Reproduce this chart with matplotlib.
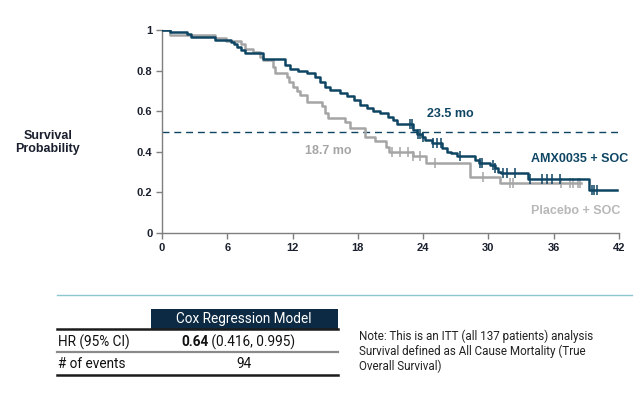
import numpy as np
import matplotlib
matplotlib.use("Agg")
import matplotlib.pyplot as plt
from matplotlib.lines import Line2D
from matplotlib.patches import Rectangle

# ---------------- data ----------------
amx_times = [0, 0.7, 2.3, 2.7, 4.9, 6.3, 6.6, 6.9, 7.3, 7.6, 9.3, 11.3, 11.8, 12.5,
             13.3, 14.1, 14.5, 15.0, 15.4, 16.4, 17.0, 17.6, 18.2, 18.8, 19.4, 20.0,
             20.8, 21.2, 21.6, 23.1, 23.4, 23.9, 24.2, 24.8, 25.7, 26.2, 26.6, 27.1,
             28.8, 29.1, 30.1, 30.6, 30.9, 31.2, 33.6, 39.25, 41.8]
amx_surv = [1.0, 0.99, 0.98, 0.967, 0.95, 0.94, 0.93, 0.918, 0.90, 0.885, 0.857, 0.83,
            0.81, 0.80, 0.788, 0.77, 0.745, 0.72, 0.705, 0.69, 0.675, 0.655, 0.63,
            0.614, 0.60, 0.59, 0.573, 0.557, 0.535, 0.507, 0.49, 0.475, 0.46, 0.445,
            0.417, 0.40, 0.392, 0.38, 0.36, 0.346, 0.335, 0.319, 0.302, 0.294, 0.264,
            0.212, 0.212]
amx_censor = [22.8, 23.0, 23.5, 23.7, 24.0, 24.9, 25.3, 25.6, 27.4, 29.2, 29.4, 30.4,
              30.6, 31.3, 31.7, 32.4, 33.8, 34.9, 35.4, 35.8, 36.6, 39.5, 39.7, 40.0]

pbo_times = [0, 0.7, 4.9, 5.9, 7.3, 7.6, 8.4, 9.0, 9.3, 10.2, 10.4, 11.5, 11.7, 12.0,
             12.4, 12.7, 13.3, 14.7, 15.0, 15.3, 16.8, 17.3, 18.7, 19.6, 20.6, 20.9,
             23.1, 24.3, 28.3, 31.1, 38.5]
pbo_surv = [1.0, 0.975, 0.96, 0.945, 0.93, 0.905, 0.89, 0.868, 0.852, 0.82, 0.787,
            0.77, 0.745, 0.72, 0.70, 0.68, 0.647, 0.625, 0.59, 0.565, 0.548, 0.516,
            0.474, 0.455, 0.425, 0.40, 0.38, 0.343, 0.277, 0.248, 0.248]
pbo_censor = [21.1, 21.9, 22.6, 23.1, 23.7, 25.1, 29.5, 32.0, 32.3, 36.7, 37.5, 37.8,
              38.2, 38.4]

x_ticks = [0, 6, 12, 18, 24, 30, 36, 42]
y_ticks = [0, 0.2, 0.4, 0.6, 0.8, 1.0]
y_ticklabels = ["0", "0.2", "0.4", "0.6", "0.8", "1"]

median_level = 0.5
amx_median_label = "23.5 mo"
pbo_median_label = "18.7 mo"

table_header = "Cox Regression Model"
row_labels = ["HR (95% CI)", "# of events"]
hr_value = "0.64"
hr_ci = " (0.416, 0.995)"
events_value = "94"
note_lines = ["Note: This is an ITT (all 137 patients) analysis",
              "Survival defined as All Cause Mortality (True",
              "Overall Survival)"]

# ---------------- style ----------------
W, H = 640, 401
DARK = "#0e4563"
GRAY = "#a5a5a5"
LGRAY = "#b8b8b8"
NAVY = "#0c2a44"
TXT = "#1a1f2e"
TEAL = "#8cc6cf"

plt.rcParams['font.family'] = ['Liberation Sans', 'DejaVu Sans']

fig = plt.figure(figsize=(W / 100, H / 100), dpi=100)

def fx(px):
    return px / W

def fy(py):
    return 1 - py / H

ax = fig.add_axes([fx(162), fy(233), fx(619) - fx(162), fy(30) - fy(233)])

def surv_at(times, surv, t):
    idx = np.searchsorted(np.asarray(times), t, side='right') - 1
    return np.asarray(surv)[idx]

ax.step(pbo_times, pbo_surv, where='post', color=GRAY, lw=1.8, zorder=2)
ax.step(amx_times, amx_surv, where='post', color=DARK, lw=1.8, zorder=3)
ax.plot(pbo_censor, [surv_at(pbo_times, pbo_surv, t) for t in pbo_censor],
        ls='none', marker='|', ms=7, mew=1.1, color=GRAY, zorder=2)
ax.plot(amx_censor, [surv_at(amx_times, amx_surv, t) for t in amx_censor],
        ls='none', marker='|', ms=7, mew=1.1, color=DARK, zorder=3)

ax.axhline(median_level, xmin=0, xmax=1, color=DARK, lw=1.0, ls=(0, (5, 3.5)), zorder=1)

ax.set_xlim(0, 42)
ax.set_ylim(0, 1)
ax.set_xticks(x_ticks)
ax.set_xticklabels([str(v) for v in x_ticks])
ax.set_yticks(y_ticks)
ax.set_yticklabels(y_ticklabels)
for s in ['top', 'right']:
    ax.spines[s].set_visible(False)
for s in ['left', 'bottom']:
    ax.spines[s].set_color('#7f7f7f')
    ax.spines[s].set_linewidth(1.0)
ax.tick_params(axis='both', direction='out', length=4, width=1.0, color='#7f7f7f',
               labelsize=8.0, labelcolor=TXT, pad=3)
for lab in ax.get_xticklabels() + ax.get_yticklabels():
    lab.set_fontweight('bold')

AFS = 9.0
ax.text(24.4, 0.585, amx_median_label, color=DARK, fontsize=AFS, fontweight='bold',
        ha='left', va='center')
ax.text(13.1, 0.405, pbo_median_label, color=GRAY, fontsize=AFS, fontweight='bold',
        ha='left', va='center')
ax.text(33.9, 0.365, "AMX0035 + SOC", color=DARK, fontsize=AFS, fontweight='bold',
        ha='left', va='center')
ax.text(33.9, 0.108, "Placebo + SOC", color=LGRAY, fontsize=AFS, fontweight='bold',
        ha='left', va='center')

fig.text(fx(48), fy(142.5), "Survival\nProbability", ha='center', va='center',
         fontsize=9.0, fontweight='bold', color=TXT, linespacing=1.2)

# separator line
fig.add_artist(Line2D([fx(57), fx(632)], [fy(294.5), fy(294.5)], color=TEAL, lw=1.0))

# ---------------- table ----------------
NARROW = ['Roboto', 'DejaVu Sans']
FS = 9.8
fig.add_artist(Rectangle((fx(151), fy(328.5)), fx(337.5) - fx(151), fy(309) - fy(328.5),
                         facecolor=NAVY, edgecolor='none'))
fig.text(fx(244), fy(319), table_header, color='white', fontsize=FS, family=NARROW,
         ha='center', va='center')
fig.add_artist(Line2D([fx(57), fx(337.5)], [fy(329), fy(329)], color='#1b1b1b', lw=1.8))
fig.add_artist(Line2D([fx(57), fx(337.5)], [fy(352), fy(352)], color='#8a8a8a', lw=1.6))
fig.add_artist(Line2D([fx(57), fx(337.5)], [fy(374.5), fy(374.5)], color='#1b1b1b', lw=1.8))

fig.text(fx(58.5), fy(342), row_labels[0], color='#111111', fontsize=FS, family=NARROW,
         ha='left', va='center')
fig.text(fx(58.5), fy(364.5), row_labels[1], color='#111111', fontsize=FS, family=NARROW,
         ha='left', va='center')
t1 = fig.text(fx(181), fy(342), hr_value, color='#111111', fontsize=FS, family=NARROW,
              fontweight='bold', ha='left', va='center')
fig.canvas.draw()
bb = t1.get_window_extent()
fig.text(bb.x1 / W, fy(342), hr_ci, color='#111111', fontsize=FS, family=NARROW,
         ha='left', va='center')
fig.text(fx(244), fy(364.5), events_value, color='#111111', fontsize=FS, family=NARROW,
         ha='center', va='center')

for i, line in enumerate(note_lines):
    fig.text(fx(359), fy(336 + 15.4 * i), line, color='#222222', fontsize=8.4,
             family=NARROW, ha='left', va='center')

fig.savefig("out.png", dpi=100, facecolor='white')
